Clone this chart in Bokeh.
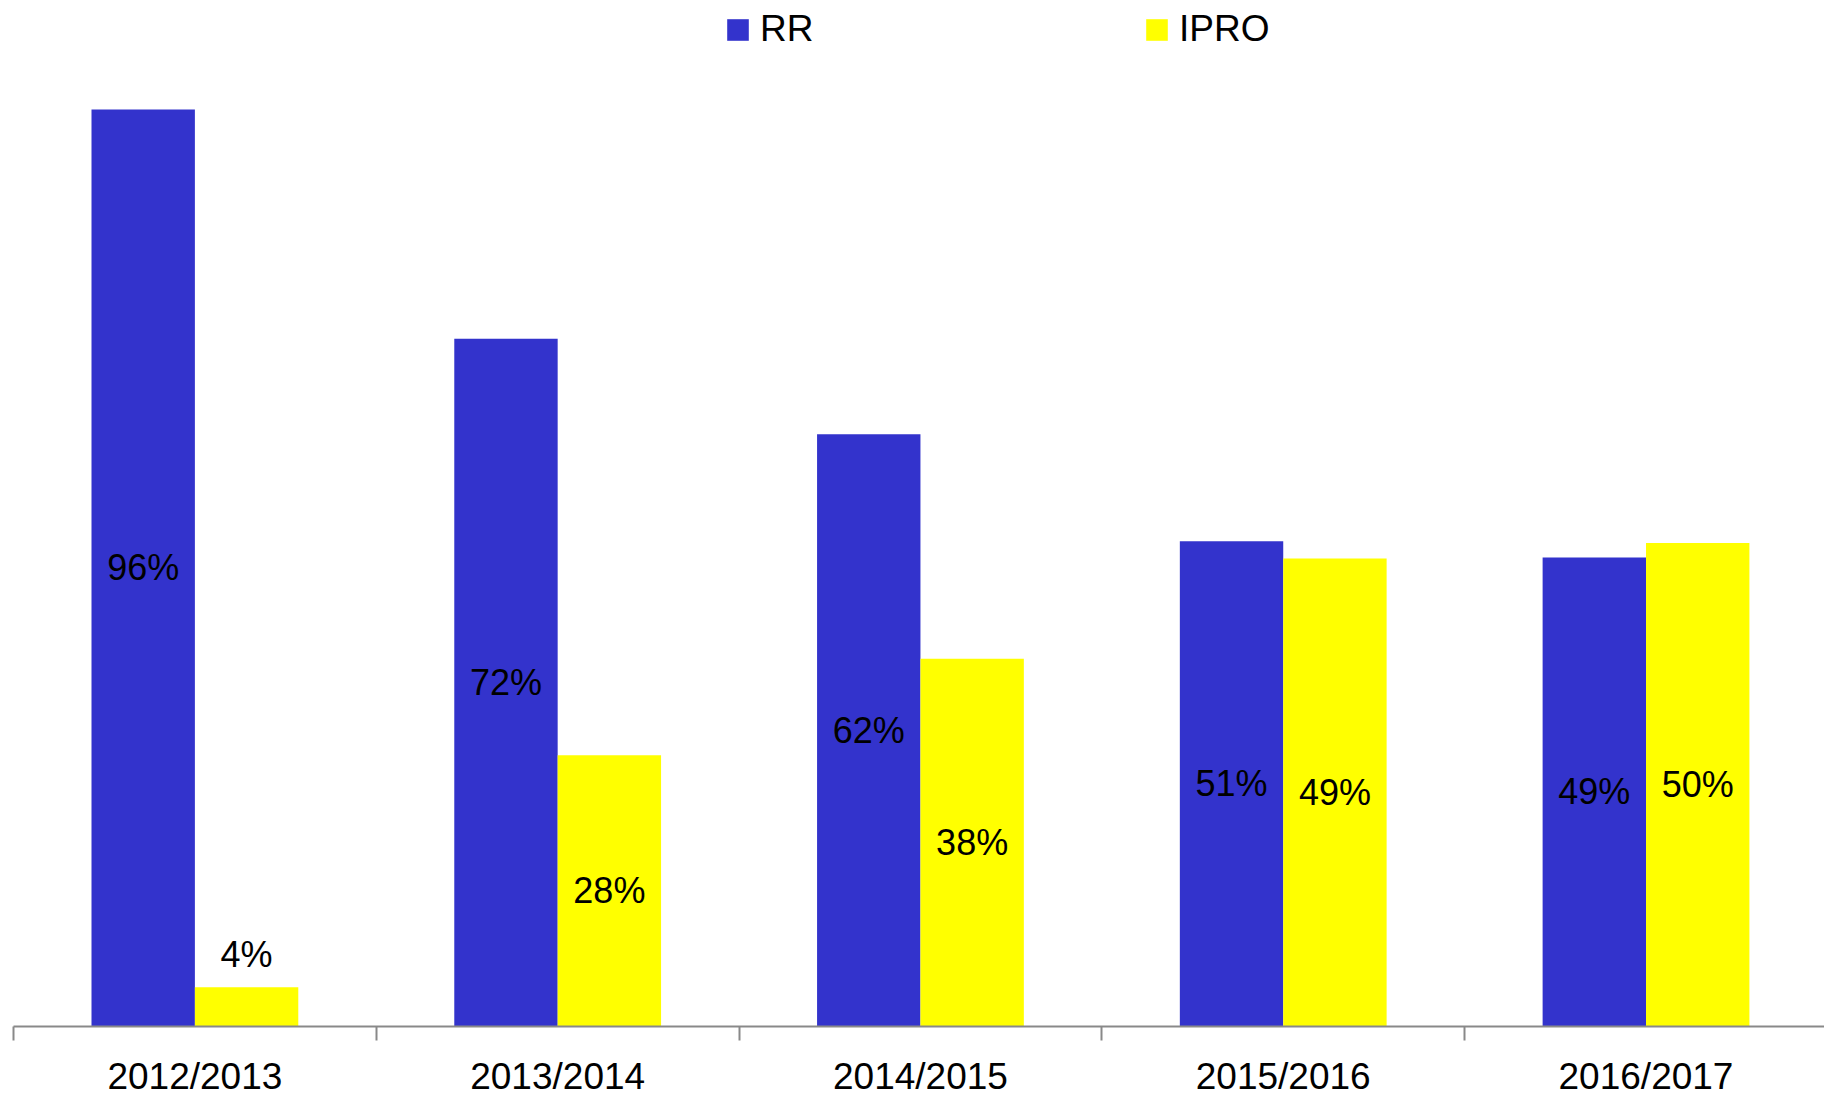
from bokeh.plotting import figure
from bokeh.models import (ColumnDataSource, Range1d, LinearAxis, FixedTicker,
                          Legend, LegendItem)
from bokeh.transform import dodge
from bokeh.core.properties import value
from bokeh.embed import file_html
from bokeh.resources import INLINE

# ---- data ----
categories = ["2012/2013", "2013/2014", "2014/2015", "2015/2016", "2016/2017"]
rr_values = [96, 72, 62, 50.8, 49.1]
ipro_values = [4.1, 28.4, 38.5, 49, 50.6]
rr_labels = ["96%", "72%", "62%", "51%", "49%"]
ipro_labels = ["4%", "28%", "38%", "49%", "50%"]
series_names = ["RR", "IPRO"]

BLUE = "#3333CC"
YELLOW = "#FFFF00"
FONT_NAME = "Liberation Sans"
FONT = value(FONT_NAME)

xs = [i + 0.5 for i in range(len(categories))]
src = ColumnDataSource(dict(
    x=xs, rr=rr_values, ipro=ipro_values,
    rr_lab=rr_labels, ipro_lab=ipro_labels,
    rr_mid=[v / 2 for v in rr_values],
))

small = [i for i, v in enumerate(ipro_values) if v < 10]
big = [i for i, v in enumerate(ipro_values) if v >= 10]
src_in = ColumnDataSource(dict(x=[xs[i] for i in big], y=[ipro_values[i] / 2 for i in big],
                               t=[ipro_labels[i] for i in big]))
src_out = ColumnDataSource(dict(x=[xs[i] for i in small], y=[ipro_values[i] for i in small],
                                t=[ipro_labels[i] for i in small]))

p = figure(frame_width=1811, frame_height=1026, output_backend="svg", toolbar_location=None,
           x_range=Range1d(0, 4.992), y_range=Range1d(0, 107.4),
           x_axis_type=None, y_axis_type=None,
           min_border_left=13, min_border_right=0, min_border_top=0, min_border_bottom=72)
p.outline_line_color = None
p.xgrid.visible = False
p.ygrid.visible = False
p.background_fill_color = "white"
p.border_fill_color = "white"

BW = 0.285
r_rr = p.vbar(x=dodge("x", -BW / 2), top="rr", width=BW, bottom=0, source=src,
              fill_color=BLUE, line_color=None)
r_ip = p.vbar(x=dodge("x", BW / 2), top="ipro", width=BW, bottom=0, source=src,
              fill_color=YELLOW, line_color=None)

LBL = "36px"
p.text(x=dodge("x", -BW / 2), y="rr_mid", text="rr_lab", source=src,
       text_font=FONT, text_font_size=LBL, text_color="black",
       text_align="center", text_baseline="middle")
p.text(x=dodge("x", BW / 2), y="y", text="t", source=src_in,
       text_font=FONT, text_font_size=LBL, text_color="black",
       text_align="center", text_baseline="middle")
p.text(x=dodge("x", BW / 2), y="y", text="t", source=src_out,
       text_font=FONT, text_font_size=LBL, text_color="black",
       text_align="center", text_baseline="alphabetic", y_offset=-33)

axis = LinearAxis(
    ticker=FixedTicker(ticks=xs, minor_ticks=list(range(len(categories) + 1))),
    major_label_overrides={x: c for x, c in zip(xs, categories)},
    axis_line_color="#898989", axis_line_width=2,
    major_tick_line_color=None, major_tick_out=0, major_tick_in=0,
    minor_tick_line_color="#898989", minor_tick_line_width=2,
    minor_tick_out=14, minor_tick_in=0,
    major_label_standoff=15,
    major_label_text_font=FONT_NAME, major_label_text_font_size="37px",
    major_label_text_color="black",
)
p.add_layout(axis, "below")

for name, rend, xloc in [(series_names[0], r_rr, 711), (series_names[1], r_ip, 1130)]:
    lg = Legend(items=[LegendItem(label=name, renderers=[rend])],
                location=(xloc, 976), orientation="horizontal",
                border_line_color=None, background_fill_alpha=0,
                padding=0, margin=0, glyph_width=27, glyph_height=27,
                label_standoff=9, label_text_font=FONT_NAME,
                label_text_font_size="37px", label_text_color="black")
    p.add_layout(lg, "center")

open("out.html", "w").write(file_html(p, INLINE))
